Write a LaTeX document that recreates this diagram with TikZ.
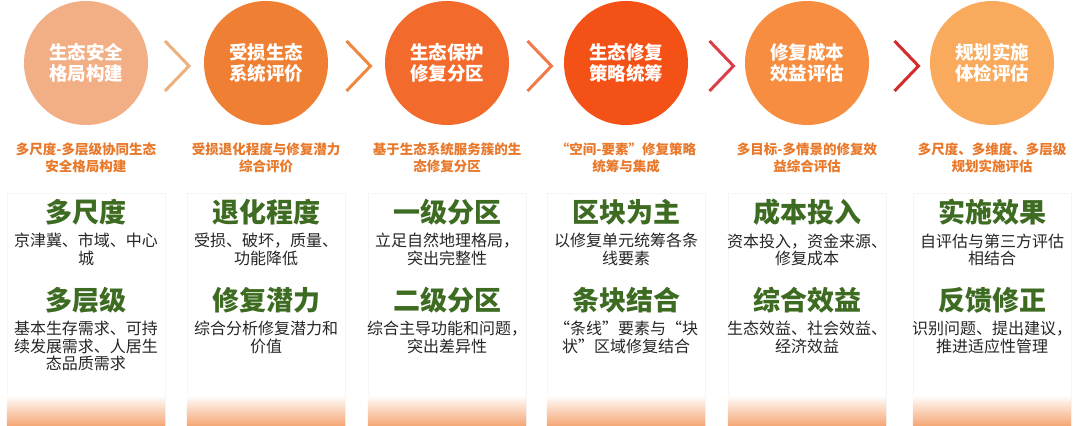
\documentclass[tikz,border=0pt]{standalone}
\usepackage{fontspec}
\setmainfont{Noto Sans CJK SC}
\usetikzlibrary{positioning,calc}
\definecolor{circA}{HTML}{F2AF86}
\definecolor{circB}{HTML}{EE7F33}
\definecolor{circC}{HTML}{F36B2C}
\definecolor{circD}{HTML}{F45116}
\definecolor{circE}{HTML}{F68D40}
\definecolor{circF}{HTML}{F9AA5C}
\definecolor{chevA}{HTML}{EBB07B}
\definecolor{chevB}{HTML}{EF8740}
\definecolor{chevC}{HTML}{F07A4A}
\definecolor{chevD}{HTML}{DA4048}
\definecolor{chevE}{HTML}{D32B2B}
\definecolor{subOrange}{HTML}{E8782A}
\definecolor{headGreen}{HTML}{3D6B21}
\definecolor{panelOrange}{HTML}{F5A878}
\begin{document}
\begin{tikzpicture}[x=1pt,y=1pt,
  circ/.style = {circle,minimum size=124pt,inner sep=0pt,text=white,
        font=\fontsize{18.5}{21.5}\selectfont\bfseries,align=center,on grid},
  sub/.style = {text=subOrange,font=\fontsize{13.5}{17}\selectfont\bfseries,
        align=center,inner sep=0pt,on grid},
  panel/.style = {draw=black!4,fill=white,minimum width=158pt,
        minimum height=232pt,inner sep=0pt,on grid},
  hd/.style = {text=headGreen,font=\fontsize{27}{29}\selectfont\bfseries,
        inner sep=0pt,on grid},
  desc/.style = {text=black!85,font=\fontsize{16}{17.5}\selectfont,
        align=center,inner sep=0pt},
  chev/.style = {line width=3pt}
]
 \useasboundingbox (0,0) rectangle (1080,426);
 % steps
 \node[circ,fill=circA] (c1) at (86,363) {生态安全\\格局构建};
 \node[circ,fill=circB,right=180pt of c1] (c2) {受损生态\\系统评价};
 \node[circ,fill=circC,right=181pt of c2] (c3) {生态保护\\修复分区};
 \node[circ,fill=circD,right=179pt of c3] (c4) {生态修复\\策略统筹};
 \node[circ,fill=circE,right=181pt of c4] (c5) {修复成本\\效益评估};
 \node[circ,fill=circF,right=185pt of c5] (c6) {规划实施\\体检评估};
 % chevrons
 \coordinate (k1) at ($(c1)!0.5!(c2)+(1,-3)$);
 \coordinate (k2) at ($(c2)!0.5!(c3)+(2,-3)$);
 \coordinate (k3) at ($(c3)!0.5!(c4)+(3,-3)$);
 \coordinate (k4) at ($(c4)!0.5!(c5)+(5,-3)$);
 \coordinate (k5) at ($(c5)!0.5!(c6)+(7,-3)$);
 \draw[chev,chevA] (k1) ++(-12,25) -- ++(24,-25) -- ++(-24,-25);
 \draw[chev,chevB] (k2) ++(-12,25) -- ++(24,-25) -- ++(-24,-25);
 \draw[chev,chevC] (k3) ++(-12,25) -- ++(24,-25) -- ++(-24,-25);
 \draw[chev,chevD] (k4) ++(-12,25) -- ++(24,-25) -- ++(-24,-25);
 \draw[chev,chevE] (k5) ++(-12,25) -- ++(24,-25) -- ++(-24,-25);
 % subtitles
 \node[sub,below=95pt of c1] (s1) {多尺度-多层级协同生态\\安全格局构建};
 \node[sub,below=95pt of c2] (s2) {受损退化程度与修复潜力\\综合评价};
 \node[sub,below=95pt of c3] (s3) {基于生态系统服务簇的生\\态修复分区};
 \node[sub,below=95pt of c4] (s4) {“空间-要素”修复策略\\统筹与集成};
 \node[sub,below=95pt of c5] (s5) {多目标-多情景的修复效\\益综合评估};
 \node[sub,below=95pt of c6] (s6) {多尺度、多维度、多层级\\规划实施评估};
 % panels
 \node[panel,below=246pt of c1] (p1) {};
 \node[panel,below=246pt of c2] (p2) {};
 \node[panel,below=246pt of c3] (p3) {};
 \node[panel,below=246pt of c4] (p4) {};
 \node[panel,below=246pt of c5] (p5) {};
 \node[panel,below=246pt of c6] (p6) {};
 \shade[top color=white,bottom color=panelOrange] ([yshift=30pt]p1.south west) rectangle (p1.south east);
 \shade[top color=white,bottom color=panelOrange] ([yshift=30pt]p2.south west) rectangle (p2.south east);
 \shade[top color=white,bottom color=panelOrange] ([yshift=30pt]p3.south west) rectangle (p3.south east);
 \shade[top color=white,bottom color=panelOrange] ([yshift=30pt]p4.south west) rectangle (p4.south east);
 \shade[top color=white,bottom color=panelOrange] ([yshift=30pt]p5.south west) rectangle (p5.south east);
 \shade[top color=white,bottom color=panelOrange] ([yshift=30pt]p6.south west) rectangle (p6.south east);
 % panel texts
 \node[hd,below=149pt of c1] (h1a) {多尺度};
 \node[desc,below=8pt of h1a] (d1a) {京津冀、市域、中心\\城};
 \node[hd,below=237pt of c1] (h1b) {多层级};
 \node[desc,below=8pt of h1b] (d1b) {基本生存需求、可持\\续发展需求、人居生\\态品质需求};
 \node[hd,below=149pt of c2] (h2a) {退化程度};
 \node[desc,below=8pt of h2a] (d2a) {受损、破坏，质量、\\功能降低};
 \node[hd,below=237pt of c2] (h2b) {修复潜力};
 \node[desc,below=8pt of h2b] (d2b) {综合分析修复潜力和\\价值};
 \node[hd,below=149pt of c3] (h3a) {一级分区};
 \node[desc,below=8pt of h3a] (d3a) {立足自然地理格局，\\突出完整性};
 \node[hd,below=237pt of c3] (h3b) {二级分区};
 \node[desc,below=8pt of h3b] (d3b) {综合主导功能和问题，\\突出差异性};
 \node[hd,below=149pt of c4] (h4a) {区块为主};
 \node[desc,below=8pt of h4a] (d4a) {以修复单元统筹各条\\线要素};
 \node[hd,below=237pt of c4] (h4b) {条块结合};
 \node[desc,below=8pt of h4b] (d4b) {“条线”要素与“块\\状”区域修复结合};
 \node[hd,below=149pt of c5] (h5a) {成本投入};
 \node[desc,below=8pt of h5a] (d5a) {资本投入，资金来源、\\修复成本};
 \node[hd,below=237pt of c5] (h5b) {综合效益};
 \node[desc,below=8pt of h5b] (d5b) {生态效益、社会效益、\\经济效益};
 \node[hd,below=149pt of c6] (h6a) {实施效果};
 \node[desc,below=8pt of h6a] (d6a) {自评估与第三方评估\\相结合};
 \node[hd,below=237pt of c6] (h6b) {反馈修正};
 \node[desc,below=8pt of h6b] (d6b) {识别问题、提出建议，\\推进适应性管理};
\end{tikzpicture}
\end{document}
